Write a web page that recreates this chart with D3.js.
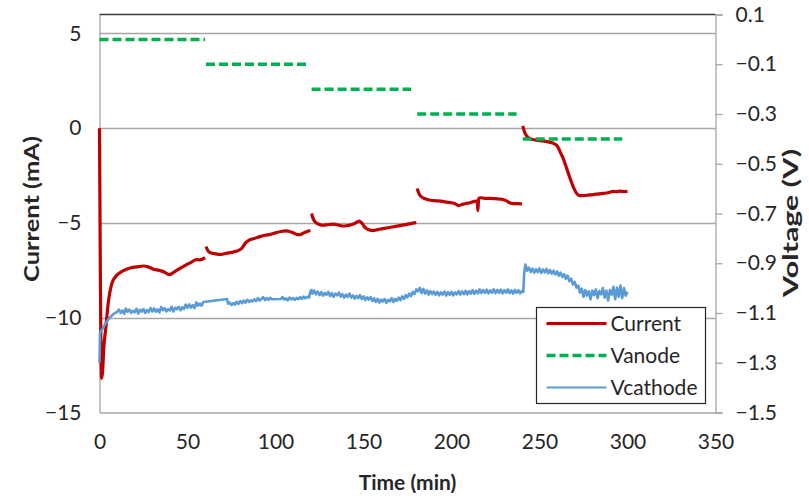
<!DOCTYPE html>
<html>
<head>
<meta charset="utf-8">
<script src="https://cdn.jsdelivr.net/npm/d3@7"></script>
<style>
  html, body { margin: 0; padding: 0; background: #fff; }
  svg text { font-family: Lato, "Open Sans", sans-serif; fill: #262626; }
</style>
</head>
<body>
<svg id="chart" width="809" height="496"></svg>
<script>
// Time axis (min) and axis tick values
const timeTicks = [0, 50, 100, 150, 200, 250, 300, 350];
const currentTicks = [-15, -10, -5, 0, 5];
const voltageTicks = [-1.5, -1.3, -1.1, -0.9, -0.7, -0.5, -0.3, -0.1, 0.1];

// Cell current (mA), one run per applied potential step: [time min, current mA]
const current1 = [[0,0],[1.2,-13.2],[1.7,-12.9],[2.5,-11.5],[3.4,-10.7],[5,-9.2],[7,-8.2],[9,-7.85],[12,-7.6],[15,-7.45],[18,-7.36],[21,-7.32],[25,-7.27],[28,-7.33],[31,-7.45],[34,-7.5],[37,-7.6],[39.5,-7.72],[41,-7.68],[43,-7.55],[46,-7.38],[49,-7.22],[52,-7.08],[55,-6.93],[57,-6.95],[60,-6.83]];
const current2 = [[60.5,-6.25],[61.5,-6.45],[63,-6.57],[66,-6.63],[69,-6.66],[72,-6.6],[75,-6.55],[78,-6.48],[81,-6.32],[83,-6.05],[85,-5.9],[88,-5.82],[91,-5.72],[94,-5.65],[97,-5.6],[100,-5.52],[103,-5.45],[106,-5.42],[108,-5.45],[110,-5.52],[112,-5.6],[114,-5.62],[116,-5.52],[118,-5.45],[119.8,-5.4]];
const current3 = [[120.5,-4.5],[121.5,-4.8],[123,-4.98],[125,-5.08],[127,-5.12],[130,-5.08],[133,-5.06],[136,-5.12],[139,-5.16],[142,-5.12],[145,-5.02],[147.5,-4.9],[149,-5.0],[151,-5.25],[153,-5.36],[155.5,-5.4],[158,-5.35],[161,-5.3],[164,-5.25],[167,-5.2],[170,-5.15],[173,-5.1],[176,-5.05],[178,-5.01],[180,-4.98]];
const current4 = [[180.5,-3.18],[181.5,-3.45],[183,-3.62],[185,-3.72],[188,-3.8],[191,-3.83],[194,-3.85],[197,-3.9],[200,-3.93],[202,-3.98],[204,-4.08],[206,-4.02],[208,-3.97],[210.5,-3.93],[213,-3.86],[214.6,-3.83],[215,-4.35],[215.4,-3.72],[216.5,-3.67],[219,-3.7],[222,-3.7],[225,-3.72],[228,-3.74],[231,-3.82],[233,-3.93],[235,-3.98],[237.5,-3.98],[240,-3.99]];
const current5 = [[240.5,0.12],[241.5,-0.2],[242.5,-0.38],[244,-0.52],[246,-0.6],[249,-0.64],[252,-0.67],[255,-0.72],[257.5,-0.78],[259,-0.85],[260.5,-1.0],[262,-1.3],[263.5,-1.6],[265.3,-2.08],[267,-2.55],[269,-3.05],[270.5,-3.35],[272,-3.52],[274,-3.56],[276,-3.55],[279,-3.52],[282,-3.48],[285,-3.45],[288,-3.42],[290,-3.38],[292,-3.33],[294,-3.35],[296,-3.32],[298,-3.34],[300,-3.33]];

// Anode set potential (V) held during each step: [start min, end min, V]
const vanodeSteps = [[0,60,0.0],[60.5,117.5,-0.1],[120.5,177,-0.2],[180.5,237,-0.3],[240.5,297,-0.4]];

// Cathode potential (V) logged once per minute: [time min, V]
const vcathode = [[0,-1.300],[0.3,-1.180],[1,-1.172],[2,-1.160],[3,-1.148],[4,-1.136],[5,-1.126],[6,-1.118],[7,-1.110],[8,-1.104],[9,-1.099],[10,-1.096],
[11,-1.086],[12,-1.100],[13,-1.090],[14,-1.103],[15,-1.082],[16,-1.095],[17,-1.086],[18,-1.100],[19,-1.091],[20,-1.097],
[21,-1.083],[22,-1.102],[23,-1.087],[24,-1.094],[25,-1.084],[26,-1.100],[27,-1.088],[28,-1.096],[29,-1.080],[30,-1.094],
[31,-1.081],[32,-1.095],[33,-1.085],[34,-1.098],[35,-1.076],[36,-1.089],[37,-1.080],[38,-1.094],[39,-1.084],[40,-1.090],
[41,-1.075],[42,-1.094],[43,-1.079],[44,-1.085],[45,-1.075],[46,-1.089],[47,-1.077],[48,-1.084],[49,-1.066],[50,-1.079],
[51,-1.065],[52,-1.078],[53,-1.068],[54,-1.080],[55,-1.057],[56,-1.070],[57,-1.062],[58,-1.071],[59,-1.056],[72.5,-1.044],
[73,-1.063],[74,-1.058],[75,-1.068],[76,-1.060],[77,-1.066],[78,-1.055],[79,-1.063],[80,-1.052],[81,-1.061],[82,-1.050],
[83,-1.058],[84,-1.047],[85,-1.056],[86,-1.049],[87,-1.054],[88,-1.045],[89,-1.052],[90,-1.040],[91,-1.050],[92,-1.043],
[93,-1.036],[94,-1.048],[95,-1.040],[96,-1.047],[97,-1.039],[98,-1.045],[103,-1.044],[104,-1.036],[105,-1.046],[106,-1.041],
[107,-1.049],[108,-1.038],[109,-1.045],[110,-1.040],[111,-1.047],[112,-1.039],[113,-1.044],[114,-1.036],[115,-1.043],[116,-1.034],
[117,-1.041],[118,-1.035],[119,-1.038],[120,-1.010],[120.5,-1.008],[121,-1.022],[122,-1.010],[123,-1.025],[124,-1.014],[125,-1.028],
[126,-1.016],[127,-1.030],[128,-1.019],[129,-1.027],[130,-1.015],[131,-1.032],[132,-1.020],[133,-1.035],[134,-1.022],[135,-1.029],
[136,-1.018],[137,-1.034],[138,-1.024],[139,-1.038],[140,-1.026],[141,-1.035],[142,-1.022],[143,-1.038],[144,-1.029],[145,-1.042],
[146,-1.031],[147,-1.040],[148,-1.028],[149,-1.044],[150,-1.033],[151,-1.048],[152,-1.037],[153,-1.046],[154,-1.036],[155,-1.052],
[156,-1.041],[157,-1.055],[158,-1.043],[159,-1.058],[160,-1.046],[161,-1.054],[162,-1.044],[163,-1.059],[164,-1.047],[165,-1.053],
[166,-1.040],[167,-1.056],[168,-1.043],[169,-1.051],[170,-1.038],[171,-1.048],[172,-1.033],[173,-1.043],[174,-1.028],[175,-1.037],
[176,-1.022],[177,-1.032],[178,-1.015],[179,-1.024],[180,-1.005],[181,-1.013],[182,-0.999],[183,-1.020],[184,-1.003],[185,-1.022],
[186,-1.009],[187,-1.026],[188,-1.012],[189,-1.024],[190,-1.014],[191,-1.027],[192,-1.015],[193,-1.029],[194,-1.017],[195,-1.026],
[196,-1.014],[197,-1.030],[198,-1.016],[199,-1.027],[200,-1.015],[201,-1.029],[202,-1.017],[203,-1.025],[204,-1.012],[205,-1.026],
[206,-1.013],[207,-1.024],[208,-1.011],[209,-1.025],[210,-1.012],[211,-1.022],[212,-1.008],[213,-1.023],[214,-1.010],[215,-1.021],
[216,-1.005],[217,-1.020],[218,-1.008],[219,-1.019],[220,-1.006],[221,-1.021],[222,-1.009],[223,-1.018],[224,-1.005],[225,-1.020],
[226,-1.007],[227,-1.019],[228,-1.006],[229,-1.021],[230,-1.008],[231,-1.018],[232,-1.005],[233,-1.020],[234,-1.009],[235,-1.022],
[236,-1.007],[237,-1.019],[238,-1.008],[239,-1.021],[240,-1.012],[240.8,-1.015],[241.3,-0.940],[242,-0.905],[243,-0.930],[244,-0.918],
[245,-0.935],[246,-0.922],[247,-0.938],[248,-0.924],[249,-0.936],[250,-0.921],[251,-0.939],[252,-0.925],[253,-0.937],[254,-0.923],
[255,-0.940],[256,-0.927],[257,-0.942],[258,-0.930],[259,-0.945],[260,-0.933],[261,-0.950],[262,-0.938],[263,-0.955],[264,-0.944],
[265,-0.962],[266,-0.950],[267,-0.972],[268,-0.962],[269,-0.985],[270,-0.975],[271,-0.998],[272,-0.990],[273,-1.018],[274,-1.002],
[275,-1.035],[276,-1.008],[277,-1.030],[278,-1.012],[279,-1.045],[280,-1.010],[281,-1.028],[282,-1.005],[283,-1.040],[284,-1.012],
[285,-1.025],[286,-1.000],[287,-1.038],[288,-1.010],[289,-1.050],[290,-1.008],[291,-1.026],[292,-0.995],[293,-1.045],[294,-0.998],
[295,-1.035],[296,-0.990],[297,-1.040],[298,-1.000],[299,-1.030],[300,-1.015]];

const seriesNames = ["Current", "Vanode", "Vcathode"];
const colors = { Current: "#C00000", Vanode: "#00B050", Vcathode: "#5B9BD5" };

const svg = d3.select("#chart");
const plot = { left: 99.5, right: 715.5, top: 14.5, bottom: 412.5 };

const x = d3.scaleLinear().domain([0, 350]).range([plot.left, plot.right]);
const yI = d3.scaleLinear().domain([-15, 6]).range([plot.bottom, plot.top]);
const yV = d3.scaleLinear().domain([-1.5, 0.1]).range([plot.bottom, plot.top]);

svg.append("rect").attr("width", 809).attr("height", 496).attr("fill", "#fff");

// horizontal gridlines on the current axis
svg.append("g").selectAll("line")
  .data(currentTicks.filter(d => d > -15))
  .join("line")
  .attr("x1", plot.left).attr("x2", plot.right)
  .attr("y1", d => Math.round(yI(d)) + 0.5).attr("y2", d => Math.round(yI(d)) + 0.5)
  .attr("stroke", "#a6a6a6").attr("stroke-width", 1.3);

// plot frame: dark top edge, grey axes
svg.append("line").attr("x1", plot.left).attr("x2", plot.right)
  .attr("y1", plot.top).attr("y2", plot.top).attr("stroke", "#3a3a3a").attr("stroke-width", 1.3);

// left axis
const gL = svg.append("g").attr("transform", `translate(${plot.left},0)`)
  .call(d3.axisLeft(yI).tickValues(currentTicks).tickSize(0).tickPadding(18));
gL.select(".domain").attr("stroke", "#a6a6a6").attr("stroke-width", 1.3);
gL.selectAll("text").attr("font-size", 21).attr("fill", "#262626").attr("font-family", null);

// right axis
const gR = svg.append("g").attr("transform", `translate(${plot.right},0)`)
  .call(d3.axisRight(yV).tickValues(voltageTicks).tickSize(7).tickPadding(13)
    .tickFormat(d => d3.format(".1f")(d)));
gR.select(".domain").attr("stroke", "#a6a6a6").attr("stroke-width", 1.3);
gR.selectAll(".tick line").attr("stroke", "#a6a6a6").attr("stroke-width", 1.3);
gR.selectAll("text").attr("font-size", 21).attr("fill", "#262626").attr("font-family", null);

// bottom axis
const gB = svg.append("g").attr("transform", `translate(0,${plot.bottom})`)
  .call(d3.axisBottom(x).tickValues(timeTicks).tickSize(0).tickPadding(22));
gB.select(".domain").attr("stroke", "#a6a6a6").attr("stroke-width", 1.3);
gB.selectAll("text").attr("font-size", 21).attr("fill", "#262626").attr("font-family", null);

// axis titles
svg.append("text").attr("x", (plot.left + plot.right) / 2).attr("y", 490)
  .attr("text-anchor", "middle").attr("font-size", 21).attr("font-weight", "bold").text("Time (min)");
svg.append("text").attr("transform", "translate(39,209) rotate(-90)")
  .attr("text-anchor", "middle").attr("font-size", 21).attr("font-weight", "bold")
  .attr("textLength", 146).attr("lengthAdjust", "spacingAndGlyphs").text("Current (mA)");
svg.append("text").attr("transform", "translate(798,223) rotate(-90)")
  .attr("text-anchor", "middle").attr("font-size", 21).attr("font-weight", "bold")
  .attr("textLength", 148).attr("lengthAdjust", "spacingAndGlyphs").text("Voltage (V)");

// series
const lineI = d3.line().x(d => x(d[0])).y(d => yI(d[1])).curve(d3.curveMonotoneX);
const lineV = d3.line().x(d => x(d[0])).y(d => yV(d[1]));

svg.append("g").selectAll("path")
  .data([current1, current2, current3, current4, current5])
  .join("path")
  .attr("d", lineI).attr("fill", "none")
  .attr("stroke", colors.Current).attr("stroke-width", 3.2).attr("stroke-linejoin", "round");

svg.append("g").selectAll("path")
  .data(vanodeSteps)
  .join("path")
  .attr("d", d => lineV([[d[0], d[2]], [d[1], d[2]]]))
  .attr("fill", "none").attr("stroke", colors.Vanode)
  .attr("stroke-width", 3.5).attr("stroke-dasharray", "9,4");

svg.append("path").datum(vcathode)
  .attr("d", lineV).attr("fill", "none")
  .attr("stroke", colors.Vcathode).attr("stroke-width", 2.6).attr("stroke-linejoin", "round");

// legend
const leg = svg.append("g").attr("transform", "translate(536.5,307.5)");
leg.append("rect").attr("width", 169).attr("height", 96)
  .attr("fill", "#fff").attr("stroke", "#262626").attr("stroke-width", 1.2);
const rows = leg.selectAll("g").data(seriesNames).join("g")
  .attr("transform", (d, i) => `translate(0,${16 + i * 32})`);
rows.append("line").attr("x1", 10).attr("x2", 70)
  .attr("stroke", d => colors[d])
  .attr("stroke-width", d => d === "Vcathode" ? 2.2 : (d === "Vanode" ? 3.5 : 3))
  .attr("stroke-dasharray", d => d === "Vanode" ? "9,4" : null);
rows.append("text").attr("x", 74).attr("dy", "0.35em").attr("font-size", 21).text(d => d);
</script>
</body>
</html>
